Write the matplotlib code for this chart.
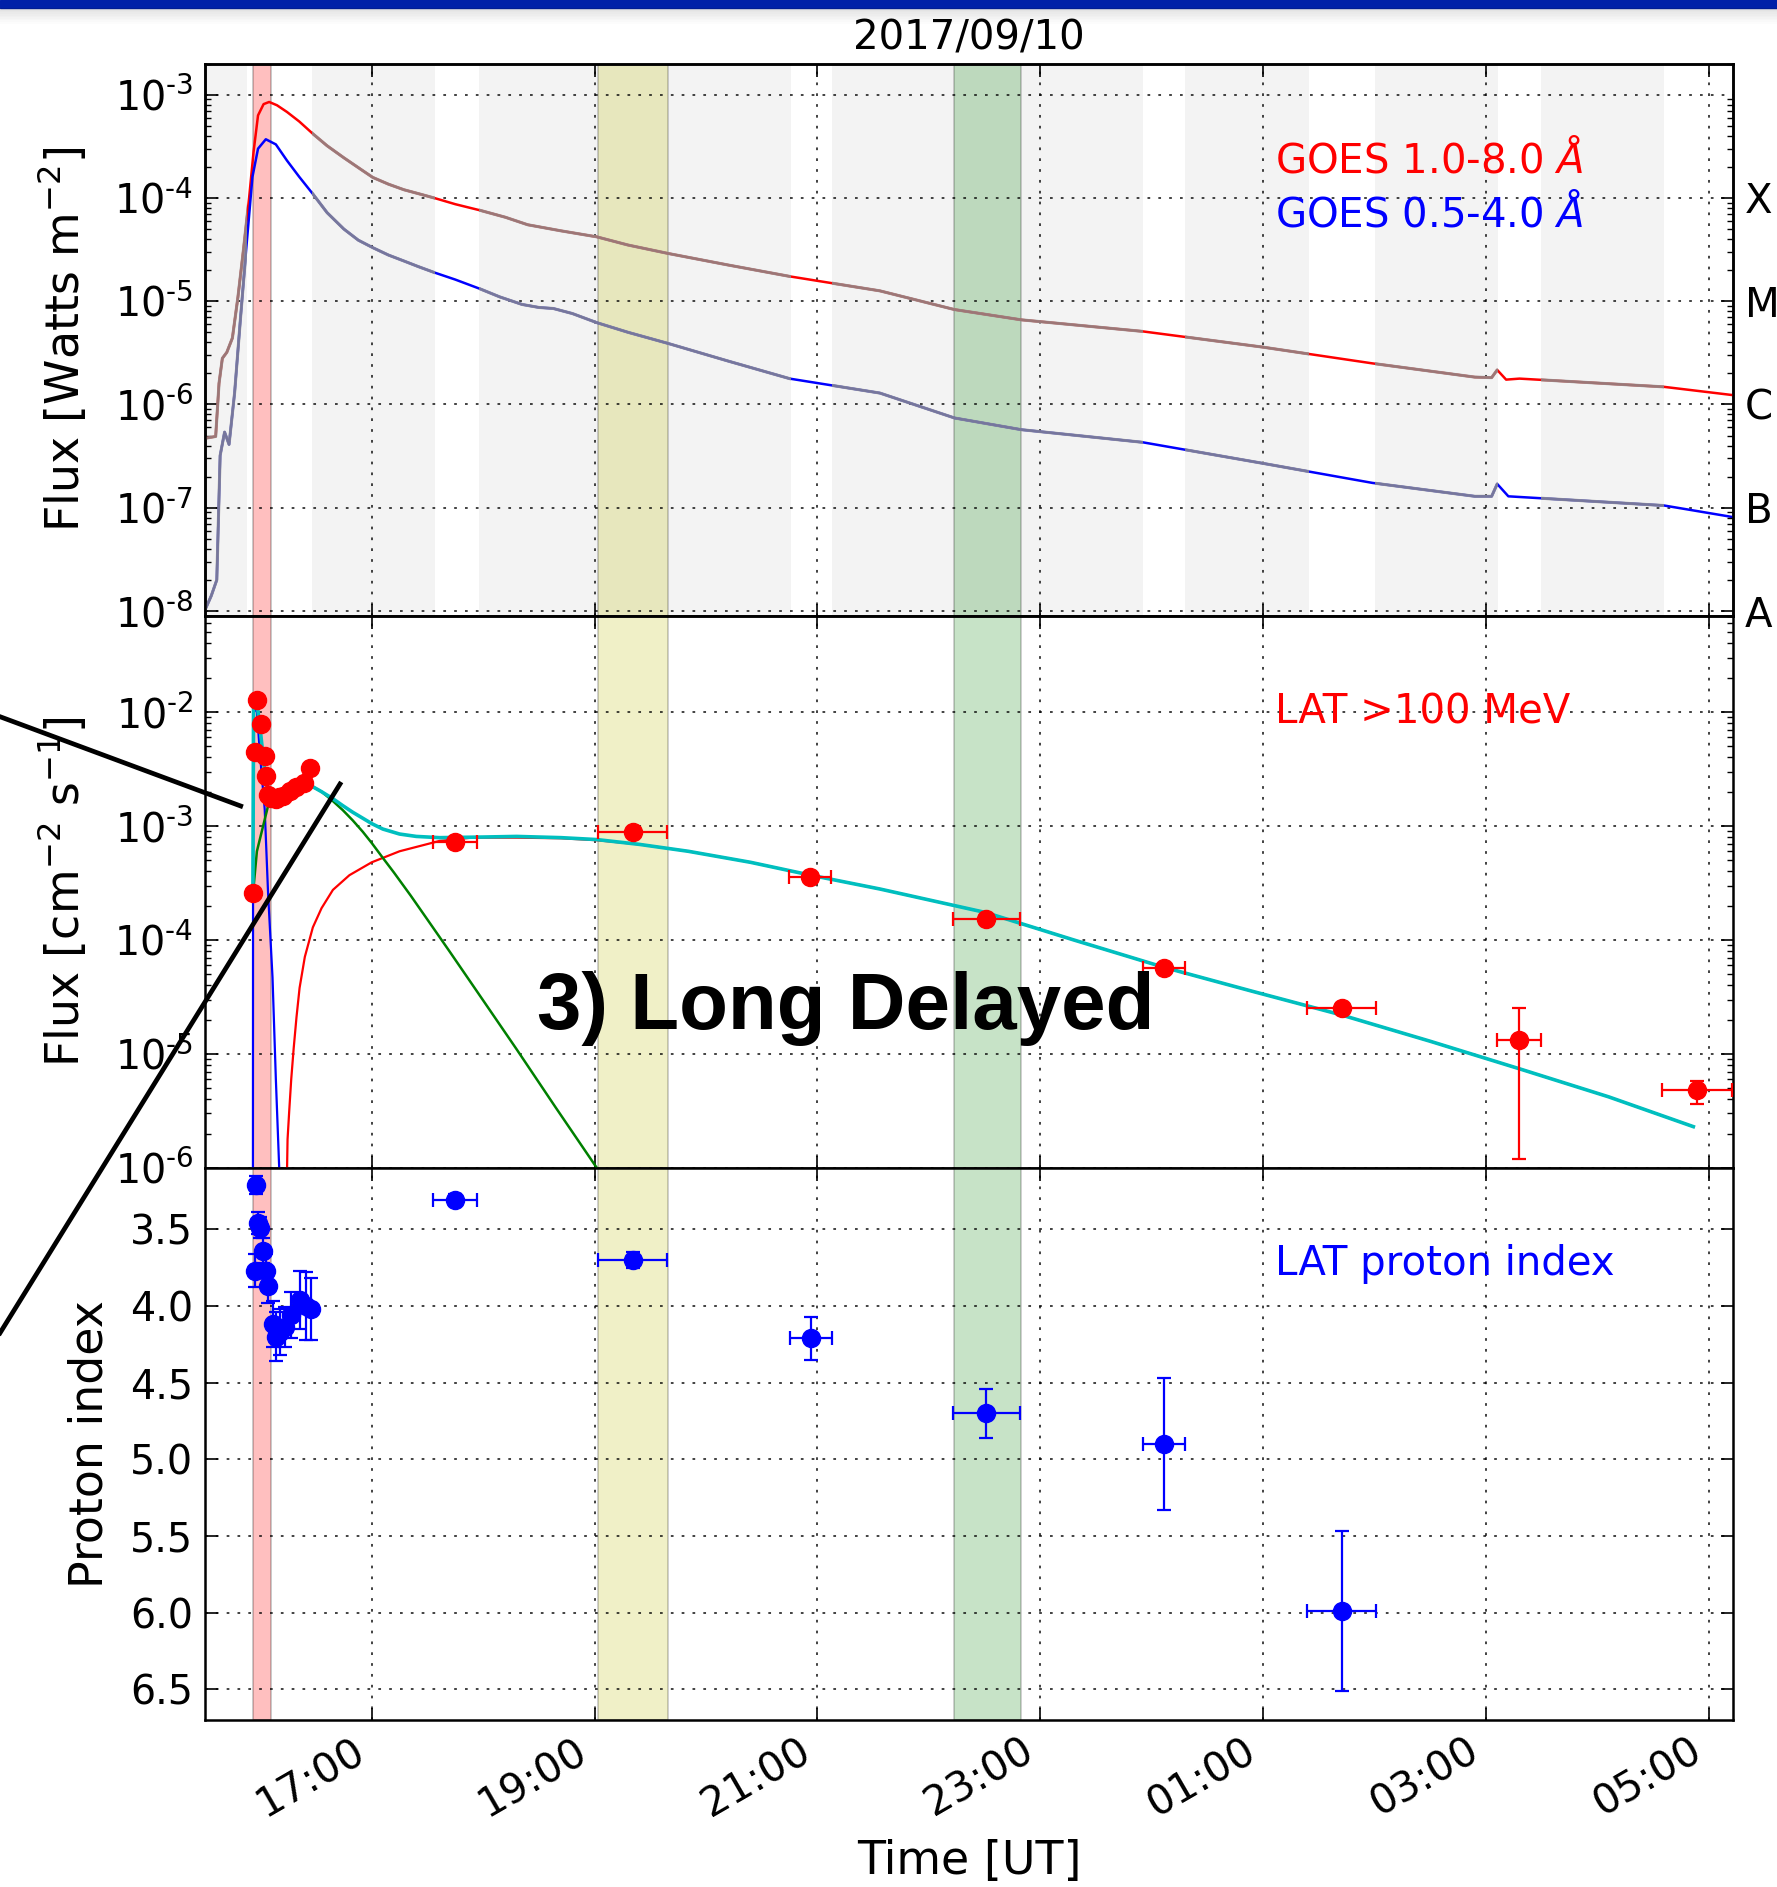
import matplotlib
matplotlib.use("Agg")
import matplotlib.pyplot as plt
import matplotlib.transforms as mtransforms
from matplotlib.lines import Line2D
from matplotlib.patches import Rectangle
from matplotlib.ticker import FixedLocator, FuncFormatter, LogLocator, NullFormatter
import numpy as np

plt.rcParams.update({
    "font.family": "DejaVu Sans",
    "mathtext.fontset": "dejavusans",
    "axes.linewidth": 1.8,
    "xtick.direction": "in", "ytick.direction": "in",
    "xtick.top": True, "ytick.right": True,
    "xtick.major.size": 9, "ytick.major.size": 9,
    "xtick.minor.size": 4.5, "ytick.minor.size": 4.5,
    "xtick.major.width": 1.2, "ytick.major.width": 1.2,
    "xtick.minor.width": 1.0, "ytick.minor.width": 1.0,
    "xtick.labelsize": 29.5, "ytick.labelsize": 28.5,
    "xtick.major.pad": 8, "ytick.major.pad": 8,
})

# ── time axis: hours since 2017-09-10 00:00 UT ─────────────────────────────
t_range = (15.5, 29.22)
hour_ticks = [17, 19, 21, 23, 25, 27, 29]

# shaded intervals (hours)
flare_band = (15.933, 16.097)
yellow_band = (19.03, 19.66)
green_band = (22.227, 22.83)
gray_stripes = [(15.5, 15.88), (16.46, 17.57), (17.965, 20.76), (21.135, 23.92),
                (24.30, 25.41), (26.007, 27.107), (27.49, 28.594)]

# ── GOES X-ray flux ────────────────────────────────────────────────────────
goes_long_t = [15.50, 15.60, 15.63, 15.66, 15.70, 15.75, 15.80, 15.85, 15.90, 15.94,
               15.98, 16.03, 16.08, 16.15, 16.24, 16.35, 16.47, 16.60, 16.75, 16.90,
               17.01, 17.15, 17.29, 17.42, 17.56, 17.75, 17.97, 18.20, 18.40, 18.70,
               19.02, 19.30, 19.66, 20.20, 20.75, 21.56, 22.23, 22.83, 23.92, 24.99,
               25.98, 26.90, 27.05, 27.10, 27.18, 27.30, 28.60, 29.22]
goes_long = [4.7e-7, 4.9e-7, 1.6e-6, 2.8e-6, 3.2e-6, 4.4e-6, 1.1e-5, 3.2e-5, 1.0e-4, 2.8e-4,
             6.3e-4, 8.1e-4, 8.5e-4, 7.9e-4, 6.8e-4, 5.5e-4, 4.2e-4, 3.2e-4, 2.45e-4, 1.9e-4,
             1.58e-4, 1.36e-4, 1.2e-4, 1.1e-4, 1.0e-4, 8.7e-5, 7.6e-5, 6.5e-5, 5.5e-5, 4.8e-5,
             4.2e-5, 3.5e-5, 2.9e-5, 2.24e-5, 1.74e-5, 1.26e-5, 8.3e-6, 6.6e-6, 5.1e-6, 3.6e-6,
             2.5e-6, 1.84e-6, 1.82e-6, 2.16e-6, 1.74e-6, 1.78e-6, 1.48e-6, 1.23e-6]

goes_short_t = [15.50, 15.56, 15.61, 15.64, 15.68, 15.72, 15.77, 15.82, 15.875, 15.93,
                15.98, 16.05, 16.14, 16.24, 16.35, 16.47, 16.60, 16.75, 16.88, 17.01,
                17.15, 17.29, 17.42, 17.56, 17.75, 17.97, 18.15, 18.35, 18.50, 18.63,
                18.80, 19.02, 19.30, 19.66, 20.20, 20.75, 21.56, 22.23, 22.83, 23.92,
                24.99, 25.98, 26.90, 27.05, 27.10, 27.20, 28.60, 29.22]
goes_short = [1.0e-8, 1.4e-8, 2.0e-8, 3.2e-7, 5.4e-7, 4.1e-7, 1.3e-6, 6.3e-6, 3.3e-5, 1.6e-4,
              3.0e-4, 3.7e-4, 3.3e-4, 2.3e-4, 1.6e-4, 1.1e-4, 7.2e-5, 5.0e-5, 3.9e-5, 3.3e-5,
              2.8e-5, 2.45e-5, 2.16e-5, 1.9e-5, 1.62e-5, 1.32e-5, 1.1e-5, 9.3e-6, 8.7e-6, 8.5e-6,
              7.6e-6, 6.2e-6, 5.0e-6, 3.9e-6, 2.63e-6, 1.78e-6, 1.29e-6, 7.4e-7, 5.7e-7, 4.3e-7,
              2.7e-7, 1.74e-7, 1.29e-7, 1.29e-7, 1.7e-7, 1.29e-7, 1.05e-7, 8.1e-8]

# ── LAT >100 MeV flux ──────────────────────────────────────────────────────
lat_t = [15.934, 15.949, 15.970, 16.003, 16.039, 16.048, 16.068, 16.100, 16.137, 16.170,
         16.203, 16.263, 16.323, 16.389, 16.443, 17.746, 19.344, 20.936, 22.514, 24.107,
         25.704, 27.295, 28.893]
lat_flux = [2.56e-4, 4.5e-3, 1.28e-2, 7.9e-3, 4.1e-3, 2.75e-3, 1.86e-3, 1.75e-3, 1.74e-3, 1.80e-3,
            1.85e-3, 2.02e-3, 2.18e-3, 2.36e-3, 3.21e-3, 7.19e-4, 8.8e-4, 3.55e-4, 1.52e-4, 5.66e-5,
            2.54e-5, 1.32e-5, 4.83e-6]
lat_terr = [0] * 15 + [0.20, 0.31, 0.19, 0.30, 0.19, 0.31, 0.20, 0.31]
lat_err_lo = [0] * 15 + [2e-5, 3e-5, 2e-5, 1e-5, 5e-6, 2.5e-6, 1.2e-5, 1.2e-6]
lat_err_hi = [0] * 15 + [2e-5, 3e-5, 2e-5, 1e-5, 5e-6, 2.5e-6, 1.22e-5, 1.0e-6]

# fitted components
mod_total_t = [15.934, 15.940, 15.975, 16.00, 16.04, 16.068, 16.20, 16.30, 16.44, 16.55,
               16.65, 16.74, 16.83, 16.92, 17.00, 17.10, 17.25, 17.40, 17.61, 18.00,
               18.30, 18.70, 19.02, 19.40, 19.84, 20.40, 20.94, 21.56, 22.51, 23.30,
               24.11, 24.90, 25.70, 26.50, 27.30, 28.10, 28.86]
mod_total = [2.5e-4, 1.2e-2, 1.1e-2, 7.0e-3, 3.0e-3, 1.9e-3, 2.0e-3, 2.2e-3, 2.3e-3, 2.0e-3,
             1.74e-3, 1.51e-3, 1.32e-3, 1.17e-3, 1.05e-3, 9.4e-4, 8.5e-4, 8.1e-4, 7.9e-4, 8.0e-4,
             8.1e-4, 7.9e-4, 7.6e-4, 6.9e-4, 6.0e-4, 4.8e-4, 3.7e-4, 2.8e-4, 1.74e-4, 1.0e-4,
             5.75e-5, 3.55e-5, 2.2e-5, 1.29e-5, 7.4e-6, 4.2e-6, 2.3e-6]
mod_impulsive_t = [15.934, 15.97, 16.07, 16.20, 16.44, 16.55, 16.65, 16.74, 16.83, 16.92,
                   17.00, 17.10, 17.20, 17.35, 17.50, 17.70, 18.00, 18.30, 18.65, 19.02,
                   19.06]
mod_impulsive = [2.5e-4, 6.0e-4, 1.5e-3, 2.0e-3, 2.3e-3, 2.0e-3, 1.66e-3, 1.38e-3, 1.12e-3, 8.9e-4,
                 7.1e-4, 5.25e-4, 3.9e-4, 2.45e-4, 1.51e-4, 7.9e-5, 2.95e-5, 1.1e-5, 3.4e-6, 1.0e-6,
                 8.7e-7]
mod_delayed_t = [16.239, 16.245, 16.26, 16.278, 16.30, 16.325, 16.353, 16.40, 16.472, 16.55,
                 16.652, 16.80, 17.00, 17.25, 17.61, 17.90, 18.30, 18.70, 19.02, 19.40,
                 19.84, 20.40, 20.94, 21.56, 22.51, 23.30, 24.11, 24.90, 25.70, 26.50,
                 27.30, 28.10, 28.86]
mod_delayed = [7.9e-7, 1.78e-6, 3.16e-6, 6.0e-6, 1.12e-5, 2.09e-5, 3.8e-5, 7.1e-5, 1.29e-4, 1.9e-4,
               2.75e-4, 3.7e-4, 4.8e-4, 6.0e-4, 7.4e-4, 7.9e-4, 7.9e-4, 7.8e-4, 7.5e-4, 6.9e-4,
               6.0e-4, 4.8e-4, 3.7e-4, 2.8e-4, 1.74e-4, 1.0e-4, 5.75e-5, 3.55e-5, 2.2e-5, 1.29e-5,
               7.4e-6, 4.2e-6, 2.3e-6]
mod_prompt_t = [15.934, 15.936, 15.97, 16.00, 16.04, 16.07, 16.11, 16.14, 16.17]
mod_prompt = [1e-7, 1.1e-2, 1.0e-2, 4.0e-3, 1.4e-3, 2.6e-4, 4.7e-5, 6.0e-6, 1.0e-6]

# ── LAT proton index ───────────────────────────────────────────────────────
idx_t = [15.949, 15.958, 15.979, 15.994, 16.023, 16.048, 16.068, 16.113, 16.143, 16.173,
         16.218, 16.278, 16.353, 16.413, 16.457, 17.746, 19.344, 20.940, 22.514, 24.107,
         25.704]
idx = [3.77, 3.21, 3.46, 3.49, 3.64, 3.77, 3.87, 4.12, 4.20, 4.17,
       4.14, 4.06, 3.96, 4.00, 4.02, 3.31, 3.70, 4.21, 4.70, 4.90,
       5.99]
idx_err = [0.11, 0.06, 0.07, 0.07, 0.08, 0.11, 0.11, 0.15, 0.16, 0.15,
           0.13, 0.15, 0.19, 0.22, 0.20, 0.04, 0.05, 0.14, 0.16, 0.43,
           0.52]
idx_terr = [0] * 15 + [0.20, 0.31, 0.19, 0.30, 0.19, 0.31]

goes_classes = ["A", "B", "C", "M", "X"]
goes_levels = [1e-8, 1e-7, 1e-6, 1e-5, 1e-4]


def log_label(v, pos):
    e = int(round(np.log10(v)))
    return r"$\mathdefault{10^{\text{-}%d}}$" % (-e)


def hour_label(v, pos):
    return "%02d:00" % (int(round(v)) % 24)


def add_bands(ax):
    ax.axvspan(*flare_band, facecolor="r", edgecolor="k", alpha=0.25, lw=1.2, zorder=1)
    ax.axvspan(*yellow_band, facecolor="y", edgecolor="k", alpha=0.22, lw=1.2, zorder=1)
    ax.axvspan(*green_band, facecolor="g", edgecolor="k", alpha=0.22, lw=1.2, zorder=1)


def style(ax):
    ax.set_xlim(*t_range)
    ax.xaxis.set_major_locator(FixedLocator(hour_ticks))
    ax.xaxis.set_major_formatter(FuncFormatter(hour_label))
    ax.grid(True, which="major", color="k", linestyle=(0, (1.5, 4.5)), lw=1.3, alpha=0.8)
    ax.set_axisbelow(False)


fig = plt.figure(figsize=(17.77, 18.87), dpi=100)
left, width, h = 0.1151, 0.8604, 0.2926
ax1 = fig.add_axes([left, 0.0885 + 2 * h, width, h])
ax2 = fig.add_axes([left, 0.0885 + h, width, h])
ax3 = fig.add_axes([left, 0.0885, width, h])

# ── top: GOES ──────────────────────────────────────────────────────────────
for x0, x1 in gray_stripes:
    ax1.axvspan(x0, x1, color="#f3f3f3", lw=0, zorder=0)
add_bands(ax1)
ax1.plot(goes_long_t, goes_long, color="r", lw=1.8, zorder=3)
ax1.plot(goes_short_t, goes_short, color="b", lw=1.8, zorder=3)
blend = mtransforms.blended_transform_factory(ax1.transData, ax1.transAxes)
for x0, x1 in gray_stripes:
    clip = Rectangle((x0, 0), x1 - x0, 1, transform=blend)
    for tt, ff in ((goes_long_t, goes_long), (goes_short_t, goes_short)):
        ln, = ax1.plot(tt, ff, color="0.55", lw=2.2, alpha=0.85, zorder=4)
        ln.set_clip_path(clip)
ax1.set_yscale("log")
ax1.set_ylim(9e-9, 2e-3)
ax1.yaxis.set_major_formatter(FuncFormatter(log_label))
ax1.yaxis.set_minor_locator(LogLocator(base=10, subs=np.arange(2, 10)))
ax1.yaxis.set_minor_formatter(NullFormatter())
style(ax1)
ax1.tick_params(labelbottom=False)
ax1.set_ylabel(r"Flux [Watts m$^{-2}$]", fontsize=33, labelpad=18)
ax1.set_title("2017/09/10", fontsize=29, pad=10)
ax1.text(0.7, 0.825, r"GOES 1.0-8.0 $\AA$", color="r", fontsize=29,
         transform=ax1.transAxes, va="center")
ax1.text(0.7, 0.727, r"GOES 0.5-4.0 $\AA$", color="b", fontsize=29,
         transform=ax1.transAxes, va="center")
ax1r = ax1.twinx()
ax1r.set_yscale("log")
ax1r.set_ylim(ax1.get_ylim())
ax1r.set_yticks(goes_levels)
ax1r.set_yticklabels(goes_classes)
ax1r.yaxis.set_minor_formatter(NullFormatter())
ax1r.tick_params(axis="y", which="both", direction="in", labelsize=29, pad=8)

# ── middle: LAT flux ───────────────────────────────────────────────────────
add_bands(ax2)
ax2.plot(mod_prompt_t, mod_prompt, color="b", lw=1.6, zorder=3)
ax2.plot(mod_delayed_t, mod_delayed, color="r", lw=1.6, zorder=3)
ax2.plot(mod_impulsive_t, mod_impulsive, color="g", lw=1.8, zorder=3)
ax2.plot(mod_total_t, mod_total, color="c", lw=2.6, zorder=4)
ax2.errorbar(lat_t, lat_flux, xerr=lat_terr, yerr=[lat_err_lo, lat_err_hi], fmt="o",
             color="r", mec="r", ms=13, elinewidth=1.6, capsize=5, capthick=1.6, zorder=5)
ax2.set_yscale("log")
ax2.set_ylim(1e-6, 7e-2)
ax2.yaxis.set_major_formatter(FuncFormatter(log_label))
ax2.yaxis.set_minor_locator(LogLocator(base=10, subs=np.arange(2, 10)))
ax2.yaxis.set_minor_formatter(NullFormatter())
style(ax2)
ax2.tick_params(labelbottom=False)
ax2.set_ylabel(r"Flux [cm$^{-2}$ s$^{-1}$]", fontsize=33, labelpad=18)
ax2.text(0.7, 0.825, "LAT >100 MeV", color="r", fontsize=29,
         transform=ax2.transAxes, va="center")

# ── bottom: proton index ──────────────────────────────────────────────────
add_bands(ax3)
ax3.errorbar(idx_t, idx, xerr=idx_terr, yerr=idx_err, fmt="o", color="b", mec="b",
             ms=13, elinewidth=1.6, capsize=5, capthick=1.6, zorder=5)
ax3.set_ylim(6.7, 3.1)
ax3.yaxis.set_major_locator(FixedLocator([3.5, 4.0, 4.5, 5.0, 5.5, 6.0, 6.5]))
ax3.yaxis.set_major_formatter(FuncFormatter(lambda v, p: "%.1f" % v))
style(ax3)
for lab in ax3.get_xticklabels():
    lab.set_rotation(30)
    lab.set_ha("right")
ax3.set_ylabel("Proton index", fontsize=33, labelpad=13)
ax3.set_xlabel("Time [UT]", fontsize=33, labelpad=10)
ax3.text(0.7, 0.825, "LAT proton index", color="b", fontsize=29,
         transform=ax3.transAxes, va="center")

# ── slide decorations ─────────────────────────────────────────────────────
W, H = 1777.0, 1887.0
fig.add_artist(Rectangle((0, 1 - 7.6 / H), 1, 7.6 / H, transform=fig.transFigure,
                         color="#0020a8", zorder=10))
for i in range(10):
    fig.add_artist(Rectangle((0, 1 - (7.6 + 1.6 * (i + 1)) / H), 1, 1.6 / H,
                             transform=fig.transFigure, color="k", lw=0,
                             alpha=0.12 * (1 - i / 10), zorder=10))
fig.add_artist(Line2D([0, 240.7 / W], [1 - 716.7 / H, 1 - 806 / H],
                      transform=fig.transFigure, color="k", lw=3.4, zorder=10))
fig.add_artist(Line2D([340 / W, 0], [1 - 784 / H, 1 - 1333 / H],
                      transform=fig.transFigure, color="k", lw=3.4, zorder=10))
fig.text(536.7 / W, 1 - 1029 / H, "3) Long Delayed", fontsize=57.5, fontweight="bold",
         family="Liberation Sans", color="k", va="baseline", ha="left", zorder=10)

fig.savefig("out.png", dpi=100)
